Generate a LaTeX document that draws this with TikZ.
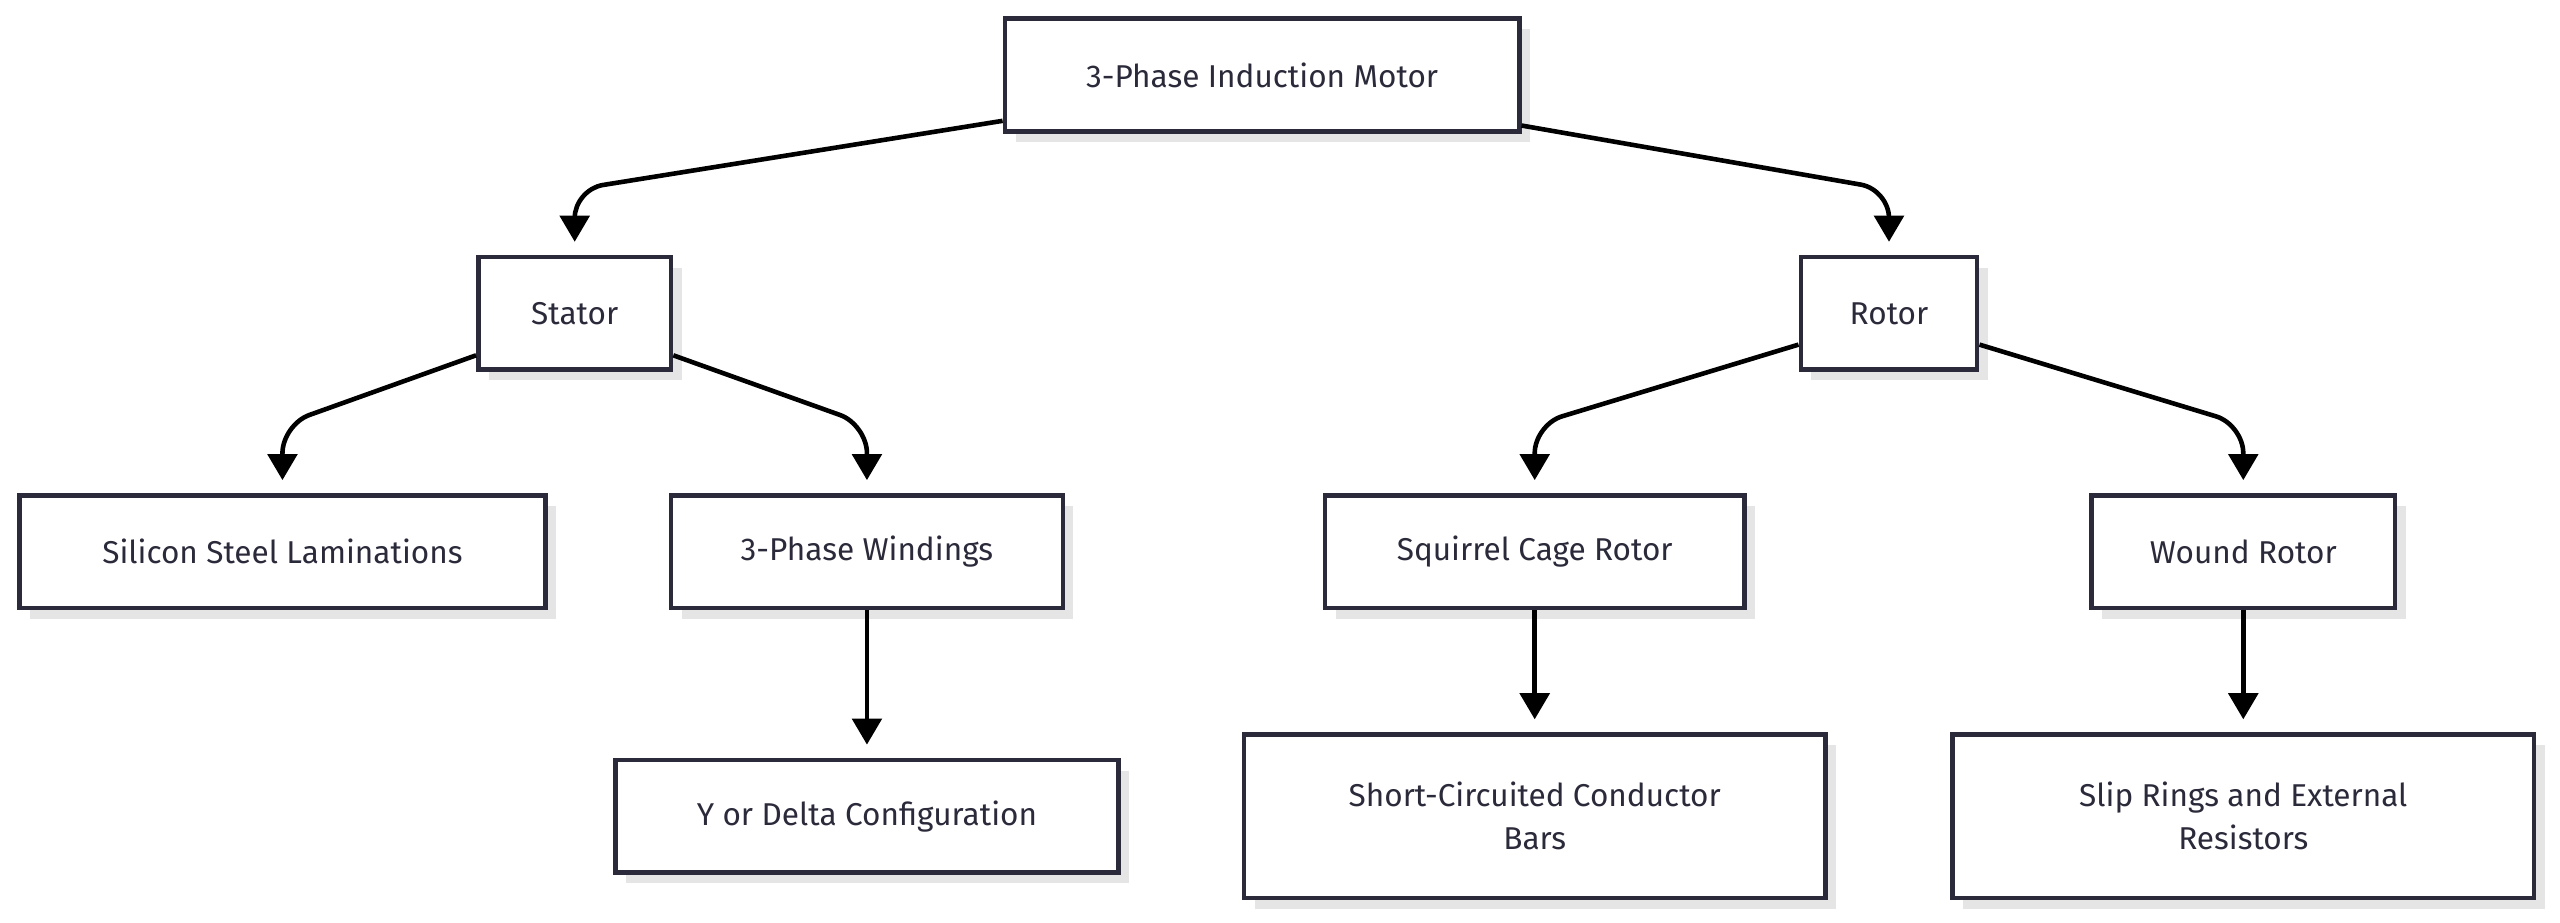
\documentclass[tikz,border=0pt]{standalone}
\usepackage{fontspec}
\setmainfont{Fira Sans}
\usetikzlibrary{calc,arrows.meta}
\definecolor{boxline}{HTML}{2B2A3A}
\tikzset{
  box/.style={draw=boxline,line width=1.6pt,fill=white,minimum height=1.38cm,align=center,
    font=\fontsize{11}{15}\selectfont\color{boxline},
    preaction={fill=black!10,draw=none,transform canvas={xshift=0.13cm,yshift=-0.13cm}}},
  arr/.style={line width=1.6pt,rounded corners=0.35cm,-{Triangle[width=0.36cm,length=0.32cm]},shorten >=0.16cm}
}
\begin{document}
\begin{tikzpicture}
%
\useasboundingbox (0,0) rectangle (31.36,-11.3);
%
\node[box,minimum width=6.3cm] (motor) at (15.46,-0.92) {3-Phase Induction Motor};
\node[box,minimum width=2.36cm] (stator) at (7.04,-3.84) {Stator};
\node[box,minimum width=2.16cm] (rotor) at (23.14,-3.84) {Rotor};
%
\node[box,minimum width=6.44cm] (steel) at (3.46,-6.76) {Silicon Steel Laminations};
\node[box,minimum width=4.8cm] (wind) at (10.62,-6.76) {3-Phase Windings};
\node[box,minimum width=5.14cm] (cage) at (18.8,-6.76) {Squirrel Cage Rotor};
\node[box,minimum width=3.72cm] (wound) at (27.48,-6.76) {Wound Rotor};
%
\node[box,minimum width=6.16cm] (delta) at (10.62,-10) {Y or Delta Configuration};
\node[box,minimum width=7.12cm,minimum height=2cm] (bars) at (18.8,-10) {Short-Circuited Conductor\\Bars};
\node[box,minimum width=7.12cm,minimum height=2cm] (slip) at (27.48,-10) {Slip Rings and External\\Resistors};
%
\draw[arr] (motor.190) -- ($(stator.north)+(0,0.8)$) -- (stator.north);
\draw[arr] (motor.349) -- ($(rotor.north)+(0,0.8)$) -- (rotor.north);
\draw[arr] (stator.203) -- ($(steel.north)+(0,0.84)$) -- (steel.north);
\draw[arr] (stator.337) -- ($(wind.north)+(0,0.84)$) -- (wind.north);
\draw[arr] (rotor.199) -- ($(cage.north)+(0,0.84)$) -- (cage.north);
\draw[arr] (rotor.341) -- ($(wound.north)+(0,0.84)$) -- (wound.north);
%
\draw[arr] (wind) -- (delta);
\draw[arr] (cage) -- (bars);
\draw[arr] (wound) -- (slip);
%
\end{tikzpicture}
\end{document}
